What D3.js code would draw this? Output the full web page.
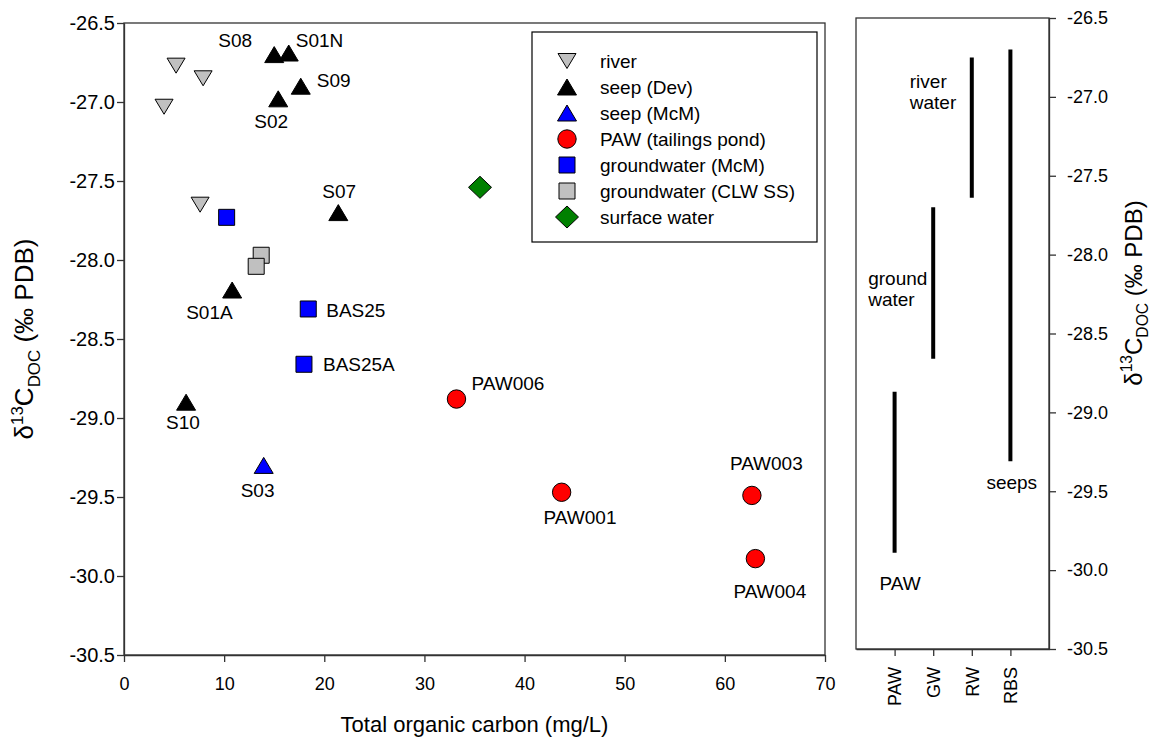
<!DOCTYPE html>
<html>
<head>
<meta charset="utf-8">
<script src="https://cdn.jsdelivr.net/npm/d3@7"></script>
<style>
  body { margin: 0; background: #fff; }
  svg text { font-family: "Liberation Sans", Arial, sans-serif; fill: #000; }
</style>
</head>
<body>
<div id="canvas"></div>
<script>
// TOC (mg/L) and d13C-DOC (per mil) for each sample group
const river = [
    { toc: 5.2, d13c: -26.77, name: "" },
    { toc: 7.9, d13c: -26.85, name: "" },
    { toc: 4.0, d13c: -27.03, name: "" },
    { toc: 7.6, d13c: -27.65, name: "" }
];
const seepDev = [
    { toc: 15.0, d13c: -26.70, name: "S08" },
    { toc: 16.45, d13c: -26.69, name: "S01N" },
    { toc: 17.65, d13c: -26.90, name: "S09" },
    { toc: 15.4, d13c: -26.98, name: "S02" },
    { toc: 21.4, d13c: -27.70, name: "S07" },
    { toc: 10.8, d13c: -28.19, name: "S01A" },
    { toc: 6.2, d13c: -28.90, name: "S10" }
];
const seepMcM = [
    { toc: 13.95, d13c: -29.30, name: "S03" }
];
const paw = [
    { toc: 33.2, d13c: -28.88, name: "PAW006" },
    { toc: 43.7, d13c: -29.47, name: "PAW001" },
    { toc: 62.7, d13c: -29.49, name: "PAW003" },
    { toc: 63.05, d13c: -29.89, name: "PAW004" }
];
const gwMcM = [
    { toc: 10.25, d13c: -27.73, name: "" },
    { toc: 18.4, d13c: -28.31, name: "BAS25" },
    { toc: 17.97, d13c: -28.66, name: "BAS25A" }
];
const gwCLW = [
    { toc: 13.7, d13c: -27.97, name: "" },
    { toc: 13.2, d13c: -28.04, name: "" }
];
const surface = [
    { toc: 35.55, d13c: -27.54, name: "" }
];

const xTicks = [0, 10, 20, 30, 40, 50, 60, 70];
const yTicks = [-30.5, -30.0, -29.5, -29.0, -28.5, -28.0, -27.5, -27.0, -26.5];

// ranges panel
const rangeCats = ["PAW", "GW", "RW", "RBS"];
const rangeLow = [-29.89, -28.66, -27.64, -29.31];
const rangeHigh = [-28.87, -27.70, -26.75, -26.70];

const series = [
    { label: "river", data: river, shape: "down", fill: "#c0c0c0" },
    { label: "seep (Dev)", data: seepDev, shape: "up", fill: "#000000" },
    { label: "seep (McM)", data: seepMcM, shape: "up", fill: "#0000ff" },
    { label: "PAW (tailings pond)", data: paw, shape: "circle", fill: "#ff0000" },
    { label: "groundwater (McM)", data: gwMcM, shape: "square", fill: "#0000ff" },
    { label: "groundwater (CLW SS)", data: gwCLW, shape: "square", fill: "#c0c0c0" },
    { label: "surface water", data: surface, shape: "diamond", fill: "#008000" }
];

// where each point label sits relative to its marker
const labelOffsets = {
    S08: [-56, -8], S01N: [7, -6], S09: [16, 1], S02: [-24, 29], S07: [-16, -15],
    S01A: [-46, 29], S10: [-20, 27], S03: [-23, 32],
    BAS25: [18, 8], BAS25A: [19, 7],
    PAW006: [15, -9], PAW001: [-18, 32], PAW003: [-22, -25], PAW004: [-22, 39]
};

function shapePath(shape) {
    switch (shape) {
        case "up": return "M0,-8L9.5,8L-9.5,8Z";
        case "down": return "M-9,-7.5L9,-7.5L0,7.5Z";
        case "square": return "M-8,-8H8V8H-8Z";
        case "diamond": return "M0,-11L11.5,0L0,11L-11.5,0Z";
        default: return d3.arc()({ innerRadius: 0, outerRadius: 9.2, startAngle: 0, endAngle: 2 * Math.PI });
    }
}

// plain hyphen like the original, not the unicode minus
const fmt = d => d.toFixed(1);

const svg = d3.select("#canvas")
    .append("svg")
    .attr("width", 1162)
    .attr("height", 740);

const lineColor = "#333";

// ---- main scatter panel ----
const x = d3.scaleLinear().domain([0, 70]).range([124, 825]);
const y = d3.scaleLinear().domain([-30.5, -26.5]).range([655, 23]);

svg.append("rect")
    .attr("x", 124).attr("y", 23)
    .attr("width", 825 - 124).attr("height", 655 - 23)
    .attr("fill", "none").attr("stroke", lineColor).attr("stroke-width", 1.3);

const xAxis = svg.append("g")
    .attr("transform", "translate(0,655)")
    .call(d3.axisBottom(x).tickValues(xTicks).tickSize(7).tickSizeOuter(0).tickPadding(15));
xAxis.selectAll("text").style("font-size", "18px");

const yAxis = svg.append("g")
    .attr("transform", "translate(124,0)")
    .call(d3.axisLeft(y).tickValues(yTicks).tickFormat(fmt).tickSize(7).tickSizeOuter(0).tickPadding(2));
yAxis.selectAll("text").style("font-size", "20px");

[xAxis, yAxis].forEach(a => {
    a.select(".domain").attr("stroke", lineColor).attr("stroke-width", 1.3);
    a.selectAll(".tick line").attr("stroke", lineColor).attr("stroke-width", 1.3);
});

svg.append("text")
    .attr("x", (124 + 825) / 2)
    .attr("y", 732)
    .attr("text-anchor", "middle")
    .style("font-size", "22px")
    .text("Total organic carbon (mg/L)");

function yTitle(g, size) {
    const t = g.append("text")
        .attr("text-anchor", "middle")
        .style("font-size", size + "px");
    t.append("tspan").text("δ");
    t.append("tspan").attr("dy", -0.4 * size).style("font-size", (size * 0.65) + "px").text("13");
    t.append("tspan").attr("dy", 0.4 * size).text("C");
    t.append("tspan").attr("dy", 0.25 * size).style("font-size", (size * 0.65) + "px").text("DOC");
    t.append("tspan").attr("dy", -0.25 * size).text(" (‰ PDB)");
}

yTitle(svg.append("g").attr("transform", "translate(33,339) rotate(-90)"), 26);

// markers
series.forEach(s => {
    svg.append("g")
        .selectAll("path")
        .data(s.data)
        .join("path")
        .attr("transform", d => `translate(${x(d.toc)},${y(d.d13c)})`)
        .attr("d", shapePath(s.shape))
        .attr("fill", s.fill)
        .attr("stroke", "#000")
        .attr("stroke-width", 1);
});

// point labels
const labelled = series.flatMap(s => s.data).filter(d => d.name);
svg.append("g")
    .selectAll("text")
    .data(labelled)
    .join("text")
    .attr("x", d => x(d.toc) + labelOffsets[d.name][0])
    .attr("y", d => y(d.d13c) + labelOffsets[d.name][1])
    .style("font-size", "19px")
    .text(d => d.name);

// legend
const legend = svg.append("g");
legend.append("rect")
    .attr("x", 532).attr("y", 32)
    .attr("width", 285).attr("height", 210)
    .attr("fill", "#fff").attr("stroke", "#000").attr("stroke-width", 1.2);

legend.selectAll("g.item")
    .data(series)
    .join("g")
    .attr("class", "item")
    .attr("transform", (d, i) => `translate(567,${61 + i * 26})`)
    .call(g => {
        g.append("path")
            .attr("d", d => shapePath(d.shape))
            .attr("fill", d => d.fill)
            .attr("stroke", "#000")
            .attr("stroke-width", 1);
        g.append("text")
            .attr("x", 33)
            .attr("dy", "0.35em")
            .style("font-size", "19px")
            .text(d => d.label);
    });

// ---- range panel ----
const xR = d3.scalePoint().domain(rangeCats).range([856, 1049]).padding(1);
const yR = d3.scaleLinear().domain([-30.5, -26.5]).range([649, 18]);

svg.append("rect")
    .attr("x", 856).attr("y", 18)
    .attr("width", 1049 - 856).attr("height", 649 - 18)
    .attr("fill", "none").attr("stroke", lineColor).attr("stroke-width", 1.3);

const xAxisR = svg.append("g")
    .attr("transform", "translate(0,649)")
    .call(d3.axisBottom(xR).tickSize(7).tickSizeOuter(0).tickPadding(11));
xAxisR.selectAll("text")
    .style("font-size", "18px")
    .attr("text-anchor", "end")
    .attr("transform", "rotate(-90)")
    .attr("x", -18)
    .attr("y", 0)
    .attr("dy", "0.35em");

const yAxisR = svg.append("g")
    .attr("transform", "translate(1049,0)")
    .call(d3.axisRight(yR).tickValues(yTicks).tickFormat(fmt).tickSize(7).tickSizeOuter(0).tickPadding(11));
yAxisR.selectAll("text").style("font-size", "18px");

[xAxisR, yAxisR].forEach(a => {
    a.select(".domain").attr("stroke", lineColor).attr("stroke-width", 1.3);
    a.selectAll(".tick line").attr("stroke", lineColor).attr("stroke-width", 1.3);
});

svg.append("g")
    .selectAll("line")
    .data(rangeCats)
    .join("line")
    .attr("x1", d => xR(d)).attr("x2", d => xR(d))
    .attr("y1", (d, i) => yR(rangeHigh[i]))
    .attr("y2", (d, i) => yR(rangeLow[i]))
    .attr("stroke", "#000")
    .attr("stroke-width", 4);

// range labels, placed against each bar
const rangeLabels = [
    { cat: "RW", lines: ["river", "water"], dx: -62, dy: 31, end: "high" },
    { cat: "GW", lines: ["ground", "water"], dx: -65, dy: 78, end: "high" },
    { cat: "RBS", lines: ["seeps"], dx: -24, dy: 28, end: "low" },
    { cat: "PAW", lines: ["PAW"], dx: -15, dy: 37, end: "low" }
];
rangeLabels.forEach(r => {
    const i = rangeCats.indexOf(r.cat);
    const yv = r.end === "high" ? yR(rangeHigh[i]) : yR(rangeLow[i]);
    const t = svg.append("text")
        .attr("x", xR(r.cat) + r.dx)
        .attr("y", yv + r.dy)
        .style("font-size", "19px");
    r.lines.forEach((l, j) => {
        t.append("tspan")
            .attr("x", xR(r.cat) + r.dx)
            .attr("dy", j === 0 ? 0 : 21)
            .text(l);
    });
});

yTitle(svg.append("g").attr("transform", "translate(1142,293) rotate(-90)"), 24);
</script>
</body>
</html>
